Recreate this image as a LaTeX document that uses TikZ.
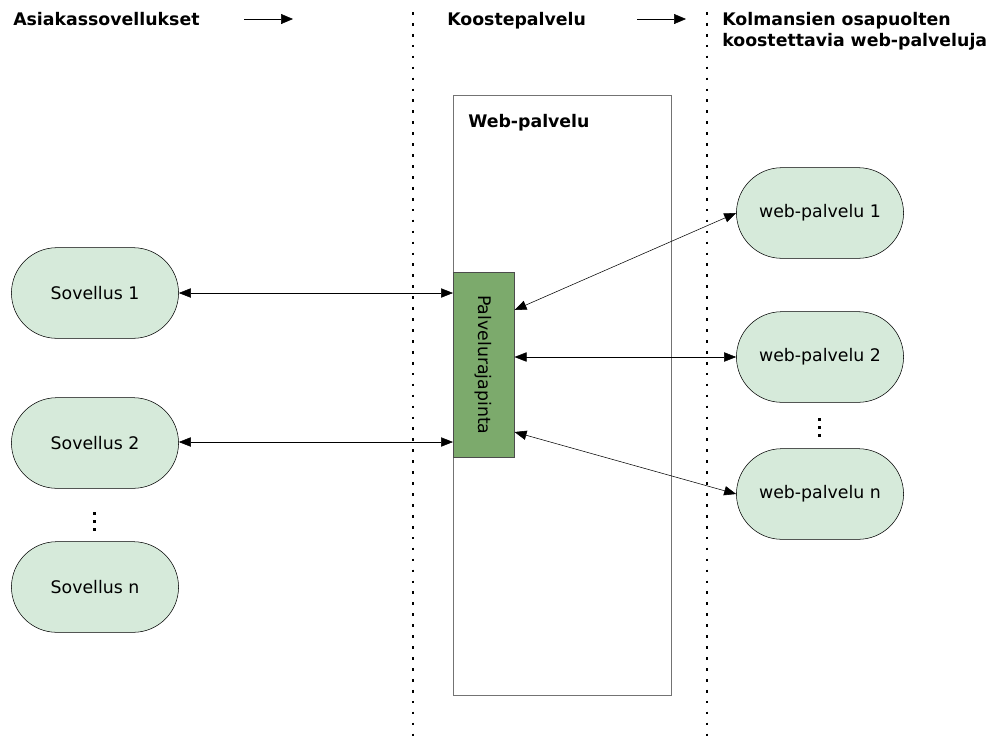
\documentclass[tikz,border=0pt]{standalone}
\usepackage{fontspec}
\setmainfont{DejaVu Sans}
\usetikzlibrary{shapes.misc,arrows.meta}

\definecolor{palefill}{RGB}{214,234,218}
\definecolor{apifill}{RGB}{124,170,108}
\tikzset{
  app/.style={draw, rounded rectangle, fill=palefill, minimum width=132pt, minimum height=68pt, font=\fontsize{13}{15}\selectfont},
  head/.style={font=\fontsize{13}{15}\selectfont\bfseries, anchor=base west, inner sep=0pt},
  sep/.style={line width=2pt, dash pattern=on 2pt off 6.2pt},
  link/.style={{Triangle[length=9pt,width=7pt]}-{Triangle[length=9pt,width=7pt]}},
  flow/.style={-{Triangle[length=9pt,width=7.5pt]}}
}

\begin{document}
\begin{tikzpicture}[x=0.75pt, y=-0.75pt]
  \useasboundingbox (0,0) rectangle (996,744);

  % column headings
  \node[head] (H1) at (13,25) {Asiakassovellukset};
  \node[head] (H2) at (447,25) {Koostepalvelu};
  \node[head] (H3) at (722,25) {Kolmansien osapuolten};
  \node[head] (H3b) at (722,46) {koostettavia web-palveluja};
  \coordinate (a1) at (244,19); \coordinate (a2) at (293,19);
  \coordinate (b1) at (637,19); \coordinate (b2) at (686,19);
  \draw[flow] (a1) -- (a2);
  \draw[flow] (b1) -- (b2);

  % dotted column borders
  \coordinate (s1) at (413,12); \coordinate (s1e) at (413,744);
  \coordinate (s2) at (707,12); \coordinate (s2e) at (707,744);
  \draw[sep] (s1) -- (s1e);
  \draw[sep] (s2) -- (s2e);

  % aggregator service
  \node[draw=black!55, fill=white, minimum width=163.5pt, minimum height=450pt, anchor=north west] (WS) at (453,95) {};
  \node[head] (WSt) at (468,127) {Web-palvelu};
  \node[draw=black!70, fill=apifill, minimum width=45.75pt, minimum height=138.75pt, anchor=north west] (API) at (453,272) {};
  \node[rotate=-90, font=\fontsize{13}{15}\selectfont] (APIt) at (API.center) {Palvelurajapinta};

  % client applications
  \node[app] (S1) at (95,293) {Sovellus 1};
  \node[app] (S2) at (95,443) {Sovellus 2};
  \node[app] (Sn) at (95,587) {Sovellus n};
  \foreach \y in {513,521,529} \fill (92.5,\y-1.5) rectangle ++(3.5,3.5);

  % third-party services
  \node[app] (W1) at (820,213) {web-palvelu 1};
  \node[app] (W2) at (820,357) {web-palvelu 2};
  \node[app] (Wn) at (820,494) {web-palvelu n};
  \foreach \y in {419,427,435} \fill (817.5,\y-1.5) rectangle ++(3.5,3.5);

  \draw[link] (S1.east) -- (API.west |- S1.east);
  \draw[link] (S2.east |- 0,442) -- (API.west |- 0,442);
  \draw[link] (API.east |- 0,310) -- (W1.west);
  \draw[link] (API.east |- W2.west) -- (W2.west);
  \draw[link] (API.east |- 0,432) -- (Wn.west);
\end{tikzpicture}
\end{document}
